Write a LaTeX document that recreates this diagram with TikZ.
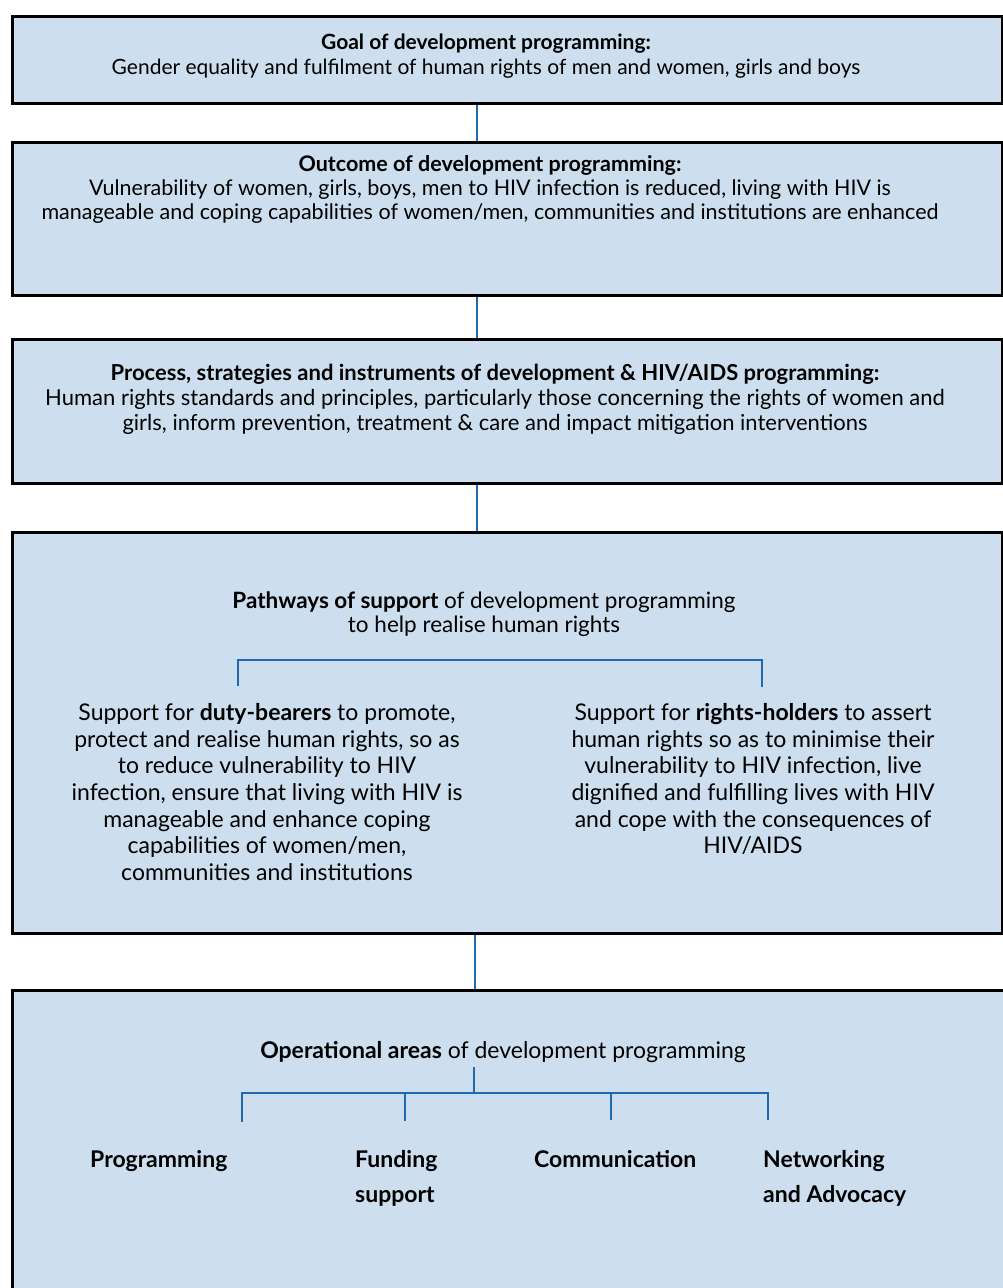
\documentclass[tikz,border=0pt]{standalone}
\usepackage{fontspec}
\setmainfont{Lato}
\definecolor{boxfill}{HTML}{CDDFEE}
\definecolor{linkblue}{HTML}{1F69B1}
\begin{document}
\begin{tikzpicture}[x=1pt,y=-1pt,
  panel/.style={draw=black, line width=2.6pt, fill=boxfill, anchor=north west, inner sep=0pt},
  link/.style={draw=linkblue, line width=2.4pt},
  body/.style={align=center, inner sep=0pt},
  column/.style={align=center, inner sep=0pt, anchor=north, font=\fontsize{23}{26.7}\selectfont},
  area/.style={align=left, anchor=north west, inner sep=0pt, font=\bfseries\fontsize{23}{35}\selectfont}]
\useasboundingbox (0,0) rectangle (1003,1288);
\clip (0,0) rectangle (1003,1288);

% five stacked panels
\node[panel, minimum width=990pt, minimum height=87pt]  (goal)    at (11,15)  {};
\node[panel, minimum width=990pt, minimum height=153pt] (outcome) at (11,141) {};
\node[panel, minimum width=990pt, minimum height=144pt] (process) at (11,338) {};
\node[panel, minimum width=990pt, minimum height=401pt] (pathways) at (11,531) {};
\node[panel, minimum width=1010pt, minimum height=320pt] (areas)  at (11,989) {};

% texts of the panels
\node[body, font=\fontsize{21}{25}\selectfont] (goaltxt) at (486,56) {\textbf{Goal of development programming:}\\
Gender equality and fulfilment of human rights of men and women, girls and boys};
\node[body, font=\fontsize{21.5}{24}\selectfont] (outtxt) at (490,189) {\textbf{Outcome of development programming:}\\
Vulnerability of women, girls, boys, men to HIV infection is reduced, living with HIV is\\
manageable and coping capabilities of women/men, communities and institutions are enhanced};
\node[body, font=\fontsize{22}{25}\selectfont] (proctxt) at (495,399) {\textbf{Process, strategies and instruments of development \& HIV/AIDS programming:}\\
Human rights standards and principles, particularly those concerning the rights of women and\\
girls, inform prevention, treatment \& care and impact mitigation interventions};
\node[body, font=\fontsize{22.5}{24}\selectfont] (pathtxt) at (484,614) {\textbf{Pathways of support} of development programming\\
to help realise human rights};
\node[column] (duty) at (267,703) {Support for \textbf{duty-bearers} to promote,\\
protect and realise human rights, so as\\
to reduce vulnerability to HIV\\
infection, ensure that living with HIV is\\
manageable and enhance coping\\
capabilities of women/men,\\
communities and institutions};
\node[column] (holders) at (753,703) {Support for \textbf{rights-holders} to assert\\
human rights so as to minimise their\\
vulnerability to HIV infection, live\\
dignified and fulfilling lives with HIV\\
and cope with the consequences of\\
HIV/AIDS};
\node[body, font=\fontsize{23}{26}\selectfont] (optxt) at (503,1052) {\textbf{Operational areas} of development programming};
\node[area] (prog) at (90,1150) {Programming};
\node[area] (fund) at (355,1150) {Funding\\support};
\node[area] (comm) at (534,1150) {Communication};
\node[area] (net)  at (763,1150) {Networking\\and Advocacy};

% connectors between panels
\coordinate (spine) at (477,0);
\coordinate (spinelow) at (475,0);
\draw[link] (goal.south -| spine) -- (outcome.north -| spine);
\draw[link] (outcome.south -| spine) -- (process.north -| spine);
\draw[link] (process.south -| spine) -- (pathways.north -| spine);
\draw[link] (pathways.south -| spinelow) -- (areas.north -| spinelow);

% bracket over the two kinds of support
\coordinate (bl) at (238,686);
\coordinate (br) at (762,687);
\coordinate (bh) at (0,660);
\draw[link] (bl) -- (bl |- bh) -- (br |- bh) -- (br);

% tree over the operational areas
\coordinate (tstem) at (474,1067);
\coordinate (tbar) at (0,1093);
\coordinate (t1) at (242,1122);
\coordinate (t2) at (405,1121);
\coordinate (t3) at (611,1120);
\coordinate (t4) at (768,1120);
\draw[link] (tstem) -- (tstem |- tbar);
\draw[link] (t1) -- (t1 |- tbar) -- (t4 |- tbar) -- (t4);
\draw[link] (t2 |- tbar) -- (t2);
\draw[link] (t3 |- tbar) -- (t3);
\end{tikzpicture}
\end{document}
